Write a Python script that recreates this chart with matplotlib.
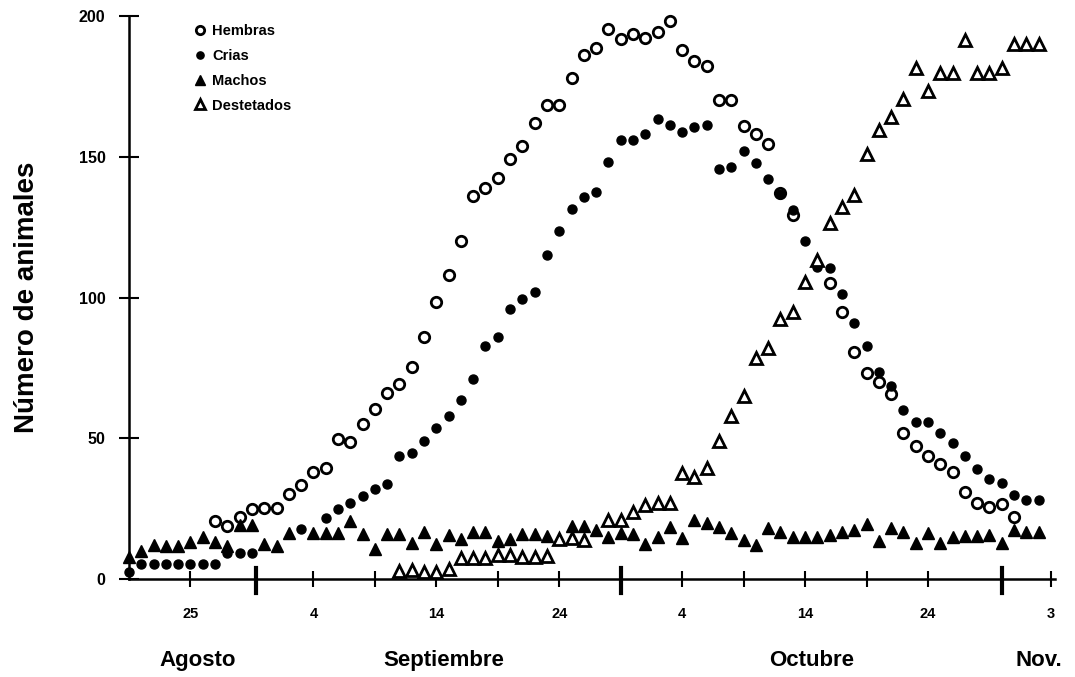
import numpy as np
from matplotlib import pyplot as plt

plt.rcParams['font.family'] = ['Liberation Sans', 'DejaVu Sans']
plt.rcParams['font.weight'] = 'bold'

nan = np.nan

# day number counted from 1 August (Aug 25 = 25, Sep 4 = 35, ... Nov 3 = 95)
days_hembras = list(range(27, 93))
hembras = [20.7, 18.8, 22.1, 24.7, 25.1, 25.3, 30.2, 33.2, 38.1, 39.4,
           49.6, 48.8, 55.0, 60.4, 66.2, 69.3, 75.2, 85.9, 98.5, 108.0,
           120.2, 136.2, 138.8, 142.6, 149.4, 153.9, 162.2, 168.6, 168.6, 178.2,
           186.4, 188.7, 195.4, 191.8, 193.8, 192.3, 194.5, 198.2, 188.1, 184.0,
           182.3, 170.2, 170.2, 160.9, 158.0, 154.5, 137.0, 129.3, nan, nan,
           105.0, 95.0, 80.7, 73.3, 70.1, 65.7, 51.8, 47.4, 43.8, 40.7,
           38.1, 30.8, 27.1, 25.5, 26.5, 22.1]

days_crias = list(range(20, 95))
crias = [2.6, 5.2, 5.2, 5.2, 5.2, 5.2, 5.2, 5.2, 9.1, 9.3,
         9.3, nan, nan, nan, 17.6, nan, 21.5, 25.0, 27.0, 29.3,
         31.9, 33.8, 43.5, 44.9, 49.1, 53.5, 57.9, 63.6, 70.9, 82.8,
         85.9, 96.0, 99.4, 102.0, 115.3, 123.7, 131.3, 135.6, 137.6, 148.2,
         156.1, 156.1, 158.3, 163.3, 161.3, 158.9, 160.7, 161.3, 145.6, 146.5,
         152.0, 148.0, 142.1, 136.8, 131.1, 120.2, 111.0, 110.4, 101.1, 91.1,
         82.9, 73.6, 68.6, 60.0, 55.9, 55.9, 51.8, 48.2, 43.6, 39.0,
         35.6, 34.2, 29.8, 28.0, 28.0]

days_machos = list(range(20, 95))
machos = [7.8, 10.0, 12.0, 11.6, 11.6, 13.0, 15.0, 13.0, 11.5, 19.2,
          19.2, 12.4, 11.7, 16.4, nan, 16.4, 16.4, 16.4, 20.4, 16.0,
          10.7, 16.0, 16.0, 12.7, 16.6, 12.5, 15.7, 14.3, 16.8, 16.6,
          13.3, 14.3, 15.8, 16.0, 15.2, nan, 18.7, 18.7, 17.3, 15.0,
          16.4, 15.8, 12.4, 15.0, 18.4, 14.6, 21.0, 20.0, 18.6, 16.2,
          13.9, 12.1, 18.0, 16.8, 14.8, 14.8, 14.8, 15.6, 16.8, 17.4,
          19.5, 13.3, 18.2, 16.8, 12.9, 16.2, 12.9, 14.8, 15.3, 15.3,
          15.6, 12.7, 17.4, 16.8, 16.8]

days_destetados = list(range(42, 95))
destetados = [2.9, 3.2, 2.6, 2.6, 3.4, 7.3, 7.3, 7.3, 8.5, 8.5,
              7.9, 7.9, 8.1, 14.1, 14.5, 13.9, nan, 21.0, 21.0, 23.9,
              26.3, 26.9, 26.9, 37.5, 36.2, 39.5, 49.1, 58.0, 65.0, 78.6,
              82.2, 92.4, 94.7, 105.5, 113.5, 126.6, 132.3, 136.4, 151.2, 159.7,
              164.2, 170.5, 181.5, 173.4, 179.7, 179.7, 191.5, 179.7, 179.7, 181.7,
              190.0, 190.0, 190.0]

label_days = [25, 35, 45, 55, 65, 75, 85, 95]
label_text = ['25', '4', '14', '24', '4', '14', '24', '3']
minor_days = [40, 50, 70, 80]
month_edges = [30.3, 60.0, 91.0]
months = ['Agosto', 'Septiembre', 'Octubre', 'Nov.']
month_centers = [25.6, 45.6, 75.5, 94.0]

fig = plt.figure(figsize=(10.75, 6.77), dpi=100)
ax = fig.add_axes([0.12, 0.145, 0.861, 0.831])

ax.plot(days_hembras, hembras, 'o', ls='none', mfc='white', mec='black',
        ms=7.5, mew=2.0, label='Hembras')
ax.plot(days_crias, crias, 'o', ls='none', color='black', ms=6.5, label='Crias')
ax.plot(days_machos, machos, '^', ls='none', color='black', ms=9, label='Machos')
ax.plot(days_destetados, destetados, '^', ls='none', mfc='white', mec='black',
        ms=9, mew=2.0, label='Destetados')

ax.set_xlim(20, 95.3)
ax.set_ylim(0, 200)
for ln in ax.lines:
    ln.set_clip_on(False)

for s in ['top', 'right']:
    ax.spines[s].set_visible(False)
for s in ['left', 'bottom']:
    ax.spines[s].set_linewidth(1.8)

ax.set_yticks([0, 50, 100, 150, 200])
ax.tick_params(axis='y', direction='inout', length=14, width=1.5,
               labelsize=11.5, pad=10)
ax.set_xticks(label_days)
ax.set_xticklabels(label_text)
ax.set_xticks(minor_days + month_edges, minor=True)
ax.tick_params(axis='x', which='major', direction='inout', length=12,
               width=1.5, labelsize=10.5, pad=14)
ax.tick_params(axis='x', which='minor', direction='inout', length=12, width=1.5)
# thicker, longer ticks at the month edges
for d in month_edges:
    ax.plot([d, d], [-5, 4], color='black', lw=3, clip_on=False)

for m, c in zip(months, month_centers):
    ax.text(c, -29, m, ha='center', va='center', fontsize=16,
            fontweight='bold')

ax.set_ylabel('Número de animales', fontsize=20, fontweight='bold', labelpad=28)

leg = ax.legend(loc='upper left', bbox_to_anchor=(0.055, 1.01), frameon=False,
                fontsize=10.5, handletextpad=0.3, labelspacing=0.75,
                handlelength=1.0, markerscale=0.8)

fig.savefig('out.png', dpi=100)
